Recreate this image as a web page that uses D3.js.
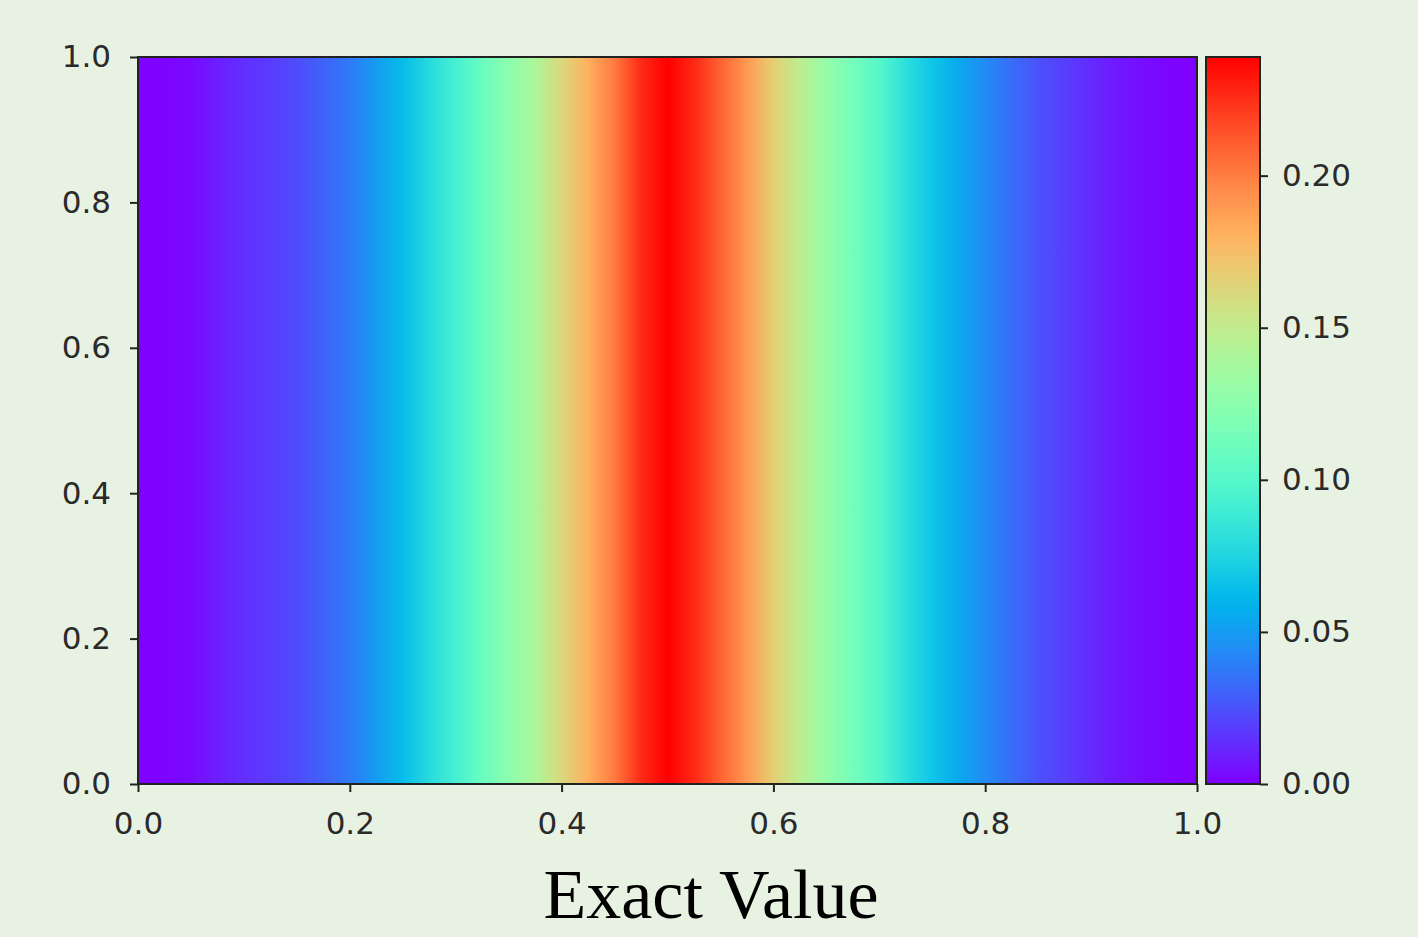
<!DOCTYPE html>
<html>
<head>
<meta charset="utf-8">
<script src="https://cdn.jsdelivr.net/npm/d3@7"></script>
<style>
  html, body { margin: 0; padding: 0; background: #e8f2e3; }
  svg text { font-family: "DejaVu Sans", sans-serif; }
</style>
</head>
<body>
<svg id="chart" width="1418" height="937"></svg>
<script>
// ---------------------------------------------------------------------------
// data: exact solution profile u(x), constant along y
// ---------------------------------------------------------------------------
const xSamples = [
    0.000, 0.025, 0.050, 0.075, 0.100, 0.125, 0.150, 0.175, 0.200, 0.225,
    0.250, 0.275, 0.300, 0.325, 0.350, 0.375, 0.400, 0.425, 0.450, 0.475,
    0.500, 0.525, 0.550, 0.575, 0.600, 0.625, 0.650, 0.675, 0.700, 0.725,
    0.750, 0.775, 0.800, 0.825, 0.850, 0.875, 0.900, 0.925, 0.950, 0.975, 1.000
];
const uValues = [
    0.000, 0.001, 0.003, 0.009, 0.014, 0.018, 0.023, 0.030, 0.038, 0.050,
    0.063, 0.078, 0.093, 0.109, 0.125, 0.141, 0.162, 0.181, 0.201, 0.226,
    0.239, 0.227, 0.209, 0.190, 0.167, 0.148, 0.129, 0.114, 0.100, 0.081,
    0.067, 0.055, 0.044, 0.034, 0.025, 0.019, 0.013, 0.007, 0.004, 0.001, 0.000
];
const axisTicks = [0.0, 0.2, 0.4, 0.6, 0.8, 1.0];
const colorbarTicks = [0.00, 0.05, 0.10, 0.15, 0.20];
const titleText = "Exact Value";

// ---------------------------------------------------------------------------
// layout
// ---------------------------------------------------------------------------
const plot = { left: 138, right: 1197, top: 57, bottom: 784 };
const cbar = { left: 1206, right: 1260 };

const svg = d3.select("#chart");

// matplotlib "rainbow" colormap
function rainbow(t) {
    t = Math.max(0, Math.min(1, t));
    const r = Math.min(1, Math.abs(2 * t - 0.5));
    const g = Math.sin(Math.PI * t);
    const b = Math.cos(Math.PI * t / 2);
    return d3.rgb(r * 255, g * 255, b * 255).formatHex();
}

const vmin = d3.min(uValues);
const vmax = d3.max(uValues);
const color = v => rainbow((v - vmin) / (vmax - vmin));

const x = d3.scaleLinear().domain([0, 1]).range([plot.left, plot.right]);
const y = d3.scaleLinear().domain([0, 1]).range([plot.bottom, plot.top]);
const cy = d3.scaleLinear().domain([vmin, vmax]).range([plot.bottom, plot.top]);

const defs = svg.append("defs");

// horizontal gradient for the field
const fieldGrad = defs.append("linearGradient")
    .attr("id", "fieldGrad")
    .attr("gradientUnits", "userSpaceOnUse")
    .attr("x1", x(0)).attr("x2", x(1))
    .attr("y1", 0).attr("y2", 0);

fieldGrad.selectAll("stop")
    .data(xSamples.map((xv, i) => ({ x: xv, u: uValues[i] })))
    .join("stop")
    .attr("offset", d => (x(d.x) - x(0)) / (x(1) - x(0)))
    .attr("stop-color", d => color(d.u));

// vertical gradient for colorbar
const cbarGrad = defs.append("linearGradient")
    .attr("id", "cbarGrad")
    .attr("x1", 0).attr("x2", 0)
    .attr("y1", 1).attr("y2", 0);

cbarGrad.selectAll("stop")
    .data(d3.range(0, 1.0001, 0.02))
    .join("stop")
    .attr("offset", d => d)
    .attr("stop-color", d => rainbow(d));

// field
svg.append("rect")
    .attr("x", x(0))
    .attr("y", y(1))
    .attr("width", x(1) - x(0))
    .attr("height", y(0) - y(1))
    .attr("fill", "url(#fieldGrad)")
    .attr("stroke", "#222")
    .attr("stroke-width", 2);

// axes
const fmt1 = d3.format(".1f");

const xAxis = svg.append("g")
    .attr("transform", `translate(0,${plot.bottom})`)
    .call(d3.axisBottom(x).tickValues(axisTicks).tickFormat(fmt1).tickSize(8).tickPadding(20));

const yAxis = svg.append("g")
    .attr("transform", `translate(${plot.left},0)`)
    .call(d3.axisLeft(y).tickValues(axisTicks).tickFormat(fmt1).tickSize(8).tickPadding(19));

[xAxis, yAxis].forEach(g => {
    g.select(".domain").remove();
    g.selectAll(".tick line").attr("stroke", "#222").attr("stroke-width", 2);
    g.selectAll(".tick text")
        .attr("fill", "#2a2a2a")
        .style("font-size", "31px");
});

// colorbar
svg.append("rect")
    .attr("x", cbar.left)
    .attr("y", cy(vmax))
    .attr("width", cbar.right - cbar.left)
    .attr("height", cy(vmin) - cy(vmax))
    .attr("fill", "url(#cbarGrad)")
    .attr("stroke", "#222")
    .attr("stroke-width", 2);

const cAxis = svg.append("g")
    .attr("transform", `translate(${cbar.right},0)`)
    .call(d3.axisRight(cy).tickValues(colorbarTicks).tickFormat(d3.format(".2f")).tickSize(8).tickPadding(14));

cAxis.select(".domain").remove();
cAxis.selectAll(".tick line").attr("stroke", "#222").attr("stroke-width", 2);
cAxis.selectAll(".tick text")
    .attr("fill", "#2a2a2a")
    .style("font-size", "31px");

// title under the chart
svg.append("text")
    .attr("x", 711)
    .attr("y", 918)
    .attr("text-anchor", "middle")
    .style("font-family", "'Liberation Serif', 'Times New Roman', serif")
    .style("font-size", "70px")
    .attr("fill", "#000")
    .text(titleText);
</script>
</body>
</html>
